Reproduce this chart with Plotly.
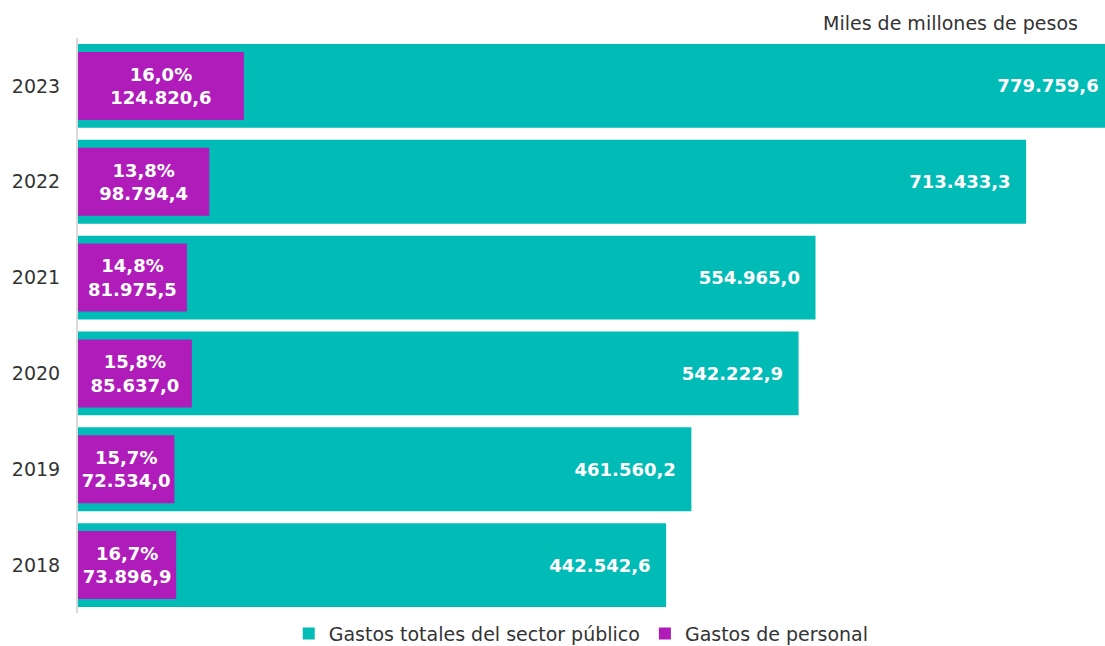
import plotly.graph_objects as go

years = ["2018", "2019", "2020", "2021", "2022", "2023"]
gastos_totales = [442542.6, 461560.2, 542222.9, 554965.0, 713433.3, 779759.6]
gastos_personal = [73896.9, 72534.0, 85637.0, 81975.5, 98794.4, 124820.6]
pct_personal = [16.7, 15.7, 15.8, 14.8, 13.8, 16.0]

TEAL = "#00BBB6"
PURPLE = "#B01CB9"
FONT = "Verdana, DejaVu Sans, sans-serif"
NB = "\u00a0\u00a0"

fig = go.Figure()
fig.add_trace(go.Bar(
    y=years, x=gastos_totales, orientation="h",
    name="Gastos totales del sector público",
    marker=dict(color=TEAL, line=dict(width=0)),
    width=0.875,
    texttemplate="%{x:,.1f}" + NB, textposition="inside", insidetextanchor="end",
    textfont=dict(family=FONT, size=18, color="white", weight="bold"),
    hoverinfo="skip",
))
fig.add_trace(go.Bar(
    y=years, x=gastos_personal, orientation="h",
    name="Gastos de personal",
    customdata=pct_personal,
    marker=dict(color=PURPLE, line=dict(width=0)),
    width=0.71,
    texttemplate="%{customdata:.1f}%<br>%{x:,.1f}", textposition="inside",
    insidetextanchor="middle",
    textfont=dict(family=FONT, size=18, color="white", weight="bold"),
    hoverinfo="skip",
))

fig.update_layout(
    width=1105, height=646,
    barmode="overlay",
    separators=",.",
    paper_bgcolor="white", plot_bgcolor="white",
    margin=dict(l=78, r=0, t=38, b=33),
    font=dict(family=FONT, size=18, color="#333333"),
    showlegend=True,
    legend=dict(orientation="h", x=0.49, xanchor="center",
                yref="container", y=0.019, yanchor="middle",
                font=dict(family=FONT, size=19, color="#333333"),
                traceorder="normal", itemwidth=30),
    xaxis=dict(range=[0, 772800], visible=False, fixedrange=True),
    yaxis=dict(showline=True, linecolor="#D9D9D9", linewidth=2, automargin=False,
               ticks="", ticklabelstandoff=12, showgrid=False, fixedrange=True,
               tickfont=dict(family=FONT, size=19, color="#333333")),
    annotations=[dict(text="Miles de millones de pesos", xref="paper", yref="paper",
                      x=0.9757, y=1.0, xanchor="right", yanchor="bottom", yshift=2,
                      showarrow=False,
                      font=dict(family=FONT, size=19, color="#333333"))],
)

fig.write_html("out.html", config={"displayModeBar": False},
               post_script="document.body.style.margin='0';document.body.style.overflow='hidden';")
